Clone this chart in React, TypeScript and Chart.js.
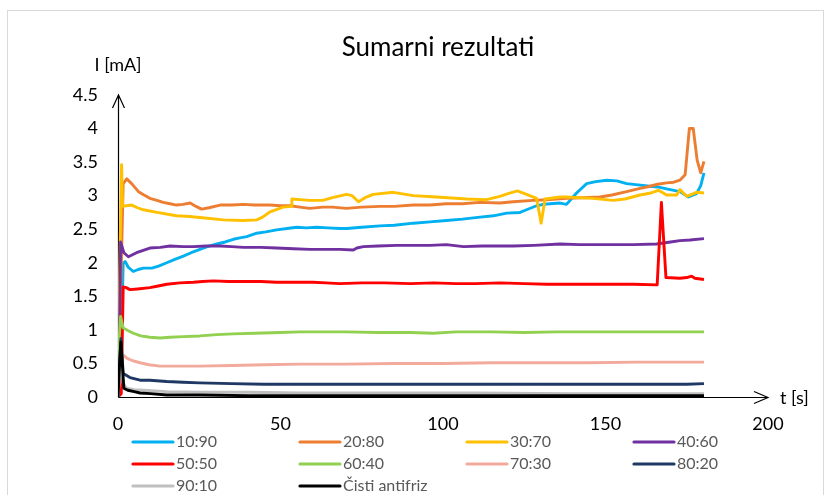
import React, { useEffect, useRef } from "react";
import { Chart, registerables } from "chart.js";

Chart.register(...registerables);

// ---- data (t in s, I in mA) ----
const seriesLabels = ["10:90", "20:80", "30:70", "40:60", "50:50", "60:40", "70:30", "80:20", "90:10", "Čisti antifriz"];
const seriesColors = ["#00B0F0", "#ED7D31", "#FFC000", "#7030A0", "#FF0000", "#92D050", "#F2AA9C", "#203864", "#BFBFBF", "#000000"];

const t1090 = [0, 0.8, 1.6, 2.2, 3.2, 4.7, 6.2, 7.8, 10.4, 12.5, 15, 17.5, 20.1, 22.5, 25.2, 27.5, 30.4, 33, 35.5, 37.5, 39.6, 42.7, 45.5, 48.8, 52, 55, 58, 61.1, 64.5, 68.3, 70.4, 75, 80.6, 85, 90.9, 96, 101.1, 106, 111.4, 115.5, 119.6, 123.7, 125.7, 128.8, 130.9, 132.9, 136, 138, 141.1, 144.2, 147, 150.4, 153.5, 156.5, 160, 163.7, 166, 168.8, 172.9, 175.5, 178, 179.3, 180.3];
const i1090 = [0, 0.4, 1.99, 2.02, 1.93, 1.87, 1.9, 1.92, 1.92, 1.95, 2.0, 2.05, 2.1, 2.15, 2.2, 2.24, 2.28, 2.31, 2.35, 2.37, 2.39, 2.44, 2.46, 2.49, 2.51, 2.53, 2.52, 2.53, 2.52, 2.51, 2.51, 2.53, 2.55, 2.56, 2.59, 2.61, 2.63, 2.65, 2.68, 2.7, 2.74, 2.75, 2.79, 2.85, 2.87, 2.88, 2.89, 2.87, 3.04, 3.18, 3.21, 3.23, 3.22, 3.18, 3.16, 3.14, 3.13, 3.1, 3.06, 2.98, 3.03, 3.15, 3.34];

const t2080 = [0, 0.8, 1.6, 2.7, 4.2, 6.3, 8, 9.8, 12, 13.9, 16, 18, 20, 22.2, 24, 25.7, 28, 31.4, 35, 38.6, 42, 46.8, 50, 52.9, 56, 59, 63, 66, 70.3, 75, 80.6, 85, 90.9, 96, 101, 106, 111.4, 117.5, 121.6, 127.7, 131.9, 138, 143, 148.3, 152, 156.5, 160, 163.7, 166, 168.8, 171, 172.9, 174.5, 175.8, 177, 178.2, 179.3, 180.3];
const i2080 = [0, 1.5, 3.18, 3.25, 3.18, 3.06, 3.01, 2.96, 2.93, 2.9, 2.88, 2.86, 2.87, 2.89, 2.84, 2.8, 2.82, 2.86, 2.86, 2.87, 2.86, 2.86, 2.85, 2.85, 2.83, 2.81, 2.83, 2.83, 2.81, 2.83, 2.84, 2.84, 2.86, 2.86, 2.88, 2.88, 2.9, 2.89, 2.91, 2.93, 2.94, 2.96, 2.97, 2.98, 3.01, 3.06, 3.1, 3.14, 3.17, 3.19, 3.2, 3.23, 3.31, 4.0, 4.0, 3.53, 3.34, 3.51];

const t3070 = [0, 0.5, 1.1, 1.4, 2.5, 4.2, 6, 7.8, 12, 18, 22, 26, 32.4, 38.5, 42.7, 44.5, 46.8, 50.8, 53.3, 53.5, 59, 63, 66, 70.3, 72, 74, 76, 78.5, 84.7, 90.9, 98, 107.3, 113.4, 117.5, 120, 122.9, 125.7, 128.8, 130.2, 131.4, 136, 138, 146, 152.4, 156, 160.6, 164, 166.3, 168.8, 171.9, 172.9, 175, 178, 180.3];
const i3070 = [0, 1.8, 3.46, 2.84, 2.85, 2.86, 2.82, 2.79, 2.75, 2.7, 2.69, 2.67, 2.64, 2.63, 2.64, 2.68, 2.76, 2.83, 2.84, 2.95, 2.93, 2.93, 2.97, 3.02, 3.0, 2.91, 2.97, 3.02, 3.05, 3.0, 2.98, 2.95, 2.94, 2.99, 3.03, 3.07, 3.02, 2.96, 2.59, 2.95, 2.98, 2.98, 2.96, 2.93, 2.95, 3.01, 3.04, 3.08, 3.01, 3.01, 3.09, 2.99, 3.05, 3.04];

const t4060 = [0, 0.5, 0.8, 1.8, 3.2, 5.7, 8, 9.8, 13, 16, 20, 23.2, 27, 31.4, 35, 38.6, 44, 48.8, 54, 59.1, 63, 68.3, 72.4, 73.5, 75.5, 80, 85.7, 90, 96, 101, 106.3, 112, 121.6, 128, 136, 142, 150, 158.6, 165.7, 170, 172.9, 176, 180.3];
const i4060 = [0, 1.0, 2.31, 2.15, 2.09, 2.15, 2.19, 2.22, 2.23, 2.25, 2.24, 2.24, 2.25, 2.25, 2.24, 2.23, 2.23, 2.22, 2.21, 2.2, 2.2, 2.2, 2.19, 2.22, 2.24, 2.25, 2.26, 2.26, 2.26, 2.27, 2.24, 2.25, 2.25, 2.26, 2.28, 2.27, 2.27, 2.27, 2.28, 2.31, 2.33, 2.34, 2.36];

const t5050 = [0, 1.0, 1.6, 2.5, 3.7, 6, 9.8, 12, 15, 19, 23.2, 26, 29.3, 34, 38.6, 44, 48.8, 55, 60, 64, 68.3, 75, 82, 90, 97, 104, 110, 117.5, 125, 132, 138, 145, 152, 158.6, 165.9, 167.2, 168.6, 172.9, 175, 176.5, 177.5, 180.3];
const i5050 = [0, 0.05, 1.64, 1.63, 1.6, 1.61, 1.63, 1.65, 1.68, 1.7, 1.71, 1.72, 1.73, 1.72, 1.72, 1.72, 1.71, 1.71, 1.71, 1.7, 1.69, 1.7, 1.7, 1.69, 1.7, 1.69, 1.69, 1.7, 1.69, 1.68, 1.68, 1.68, 1.68, 1.68, 1.67, 2.9, 1.78, 1.77, 1.78, 1.8, 1.77, 1.75];

const t6040 = [0, 0.4, 0.8, 1.6, 3, 4.7, 7, 9.8, 13, 16, 20.1, 25.2, 30.4, 35.5, 42, 50, 56, 63, 70, 80, 90, 97, 104, 115, 125, 135, 145, 155, 165, 172, 180.3];
const i6040 = [0, 0.9, 1.2, 1.03, 0.99, 0.95, 0.91, 0.89, 0.88, 0.89, 0.9, 0.91, 0.93, 0.94, 0.95, 0.96, 0.97, 0.97, 0.97, 0.96, 0.96, 0.95, 0.97, 0.97, 0.96, 0.97, 0.97, 0.97, 0.97, 0.97, 0.97];

const t7030 = [0, 0.5, 0.8, 2.7, 4.5, 6.8, 9.5, 12.9, 18, 25, 35, 45, 56, 70, 85, 100, 115, 130, 145, 160, 170, 180.3];
const i7030 = [0, 0.4, 0.66, 0.58, 0.54, 0.51, 0.48, 0.46, 0.46, 0.46, 0.47, 0.48, 0.49, 0.49, 0.5, 0.5, 0.51, 0.51, 0.51, 0.52, 0.52, 0.52];

const t8020 = [0, 0.5, 0.9, 1.6, 3.7, 6.8, 9.8, 15, 20, 25, 35, 45, 56, 70, 90, 110, 130, 150, 165, 175, 180.3];
const i8020 = [0, 0.5, 0.87, 0.35, 0.29, 0.25, 0.25, 0.23, 0.22, 0.21, 0.2, 0.19, 0.19, 0.19, 0.19, 0.19, 0.19, 0.19, 0.19, 0.19, 0.2];

const t9010 = [0, 0.5, 0.9, 1.6, 2.7, 5, 8, 15, 25, 40, 56, 80, 110, 140, 160, 180.3];
const i9010 = [0, 0.3, 0.5, 0.2, 0.13, 0.11, 0.1, 0.08, 0.07, 0.07, 0.06, 0.06, 0.06, 0.05, 0.05, 0.05];

const tCisti = [0, 0.5, 0.9, 1.8, 3, 5, 6.8, 10, 15, 25, 40, 60, 90, 120, 150, 180.3];
const iCisti = [0, 0.5, 0.82, 0.13, 0.1, 0.08, 0.06, 0.05, 0.03, 0.03, 0.02, 0.02, 0.02, 0.02, 0.02, 0.02];

const seriesT = [t1090, t2080, t3070, t4060, t5050, t6040, t7030, t8020, t9010, tCisti];
const seriesI = [i1090, i2080, i3070, i4060, i5050, i6040, i7030, i8020, i9010, iCisti];

const xTicks = [0, 50, 100, 150, 200];
const yTicks = [0, 0.5, 1, 1.5, 2, 2.5, 3, 3.5, 4, 4.5];

const chartTitle = "Sumarni rezultati";
const yAxisTitle = "I [mA]";
const xAxisTitle = "t [s]";

const FONT = "Lato, 'Open Sans', sans-serif";

const decorPlugin = {
  id: "decor",
  beforeDraw(chart: any) {
    const ctx = chart.ctx;
    ctx.save();
    ctx.fillStyle = "#ffffff";
    ctx.fillRect(0, 0, chart.width, chart.height);
    ctx.strokeStyle = "#D9D9D9";
    ctx.lineWidth = 1;
    ctx.strokeRect(7.5, 10.5, 816, 520);
    ctx.restore();
  },
  beforeDatasetsDraw(chart: any) {
    const ctx = chart.ctx;
    const xs = chart.scales.x;
    const ys = chart.scales.y;
    const x0 = Math.round(xs.getPixelForValue(0)) + 0.5;
    const xMax = xs.getPixelForValue(200);
    const y0 = Math.round(ys.getPixelForValue(0)) + 0.5;
    const yMax = ys.getPixelForValue(4.5);
    ctx.save();
    ctx.strokeStyle = "#000000";
    ctx.lineWidth = 1.2;
    ctx.beginPath();
    ctx.moveTo(x0, y0);
    ctx.lineTo(x0, yMax);
    ctx.moveTo(x0 - 6, yMax + 13);
    ctx.lineTo(x0, yMax);
    ctx.lineTo(x0 + 6, yMax + 13);
    ctx.moveTo(x0, y0);
    ctx.lineTo(xMax, y0);
    ctx.moveTo(xMax - 14, y0 - 6);
    ctx.lineTo(xMax, y0);
    ctx.lineTo(xMax - 14, y0 + 6);
    ctx.stroke();
    ctx.restore();
  },
  afterDraw(chart: any) {
    const ctx = chart.ctx;
    const xs = chart.scales.x;
    const ys = chart.scales.y;
    ctx.save();
    // title
    ctx.fillStyle = "#000000";
    ctx.font = `26px ${FONT}`;
    ctx.textAlign = "center";
    ctx.textBaseline = "middle";
    ctx.fillText(chartTitle, 438, 48);
    // axis titles
    ctx.font = `18px ${FONT}`;
    ctx.fillText(yAxisTitle, xs.getPixelForValue(0), 65);
    ctx.textAlign = "left";
    ctx.fillText(xAxisTitle, xs.getPixelForValue(200) + 12, ys.getPixelForValue(0) + 1);
    // legend
    const colX = [133, 300, 467, 634];
    const rowY = [442, 464, 486];
    ctx.font = `16px ${FONT}`;
    ctx.textBaseline = "middle";
    ctx.lineCap = "round";
    chart.data.datasets.forEach((ds: any, i: number) => {
      const cx = colX[i % 4];
      const cy = rowY[Math.floor(i / 4)];
      ctx.strokeStyle = ds.borderColor;
      ctx.lineWidth = 3.2;
      ctx.beginPath();
      ctx.moveTo(cx, cy);
      ctx.lineTo(cx + 40, cy);
      ctx.stroke();
      ctx.fillStyle = "#595959";
      ctx.fillText(ds.label, cx + 43, cy);
    });
    ctx.restore();
  },
};

export default function App() {
  const ref = useRef<HTMLCanvasElement | null>(null);
  useEffect(() => {
    let chart: Chart | null = null;
    let cancelled = false;
    const build = () => {
      if (cancelled || !ref.current) return;
      const datasets = seriesLabels.map((label, i) => ({
        label,
        data: seriesT[i].map((t, k) => ({ x: t, y: seriesI[i][k] })),
        borderColor: seriesColors[i],
        backgroundColor: seriesColors[i],
        borderWidth: 2.9,
        borderJoinStyle: "round",
        pointRadius: 0,
        tension: 0,
        fill: false,
        order: seriesLabels.length - i,
      }));
      chart = new Chart(ref.current, {
        type: "line",
        data: { datasets },
        plugins: [decorPlugin],
        options: {
          animation: false,
          responsive: false,
          events: [],
          layout: { padding: { left: 20, top: 95, right: 57, bottom: 58 } },
          plugins: {
            legend: { display: false },
            title: { display: false },
            tooltip: { enabled: false },
          },
          scales: {
            x: {
              type: "linear",
              min: 0,
              max: 200,
              afterBuildTicks: (s: any) => {
                s.ticks = xTicks.map((v) => ({ value: v }));
              },
              afterFit: (s: any) => {
                s.height = 40;
              },
              ticks: {
                font: { family: FONT, size: 18 },
                color: "#000000",
                padding: 16,
                maxRotation: 0,
                autoSkip: false,
              },
              grid: { display: false, drawTicks: false },
              border: { display: false },
            },
            y: {
              type: "linear",
              min: 0,
              max: 4.5,
              afterBuildTicks: (s: any) => {
                s.ticks = yTicks.map((v) => ({ value: v }));
              },
              afterFit: (s: any) => {
                s.width = 98;
              },
              ticks: {
                font: { family: FONT, size: 18 },
                color: "#000000",
                padding: 20,
                autoSkip: false,
                callback: (v: any) => String(v),
              },
              grid: { display: false, drawTicks: false },
              border: { display: false },
            },
          },
        },
      } as any);
    };
    const fontsReady = (document as any).fonts
      ? Promise.all([
          (document as any).fonts.load(`16px Lato`),
          (document as any).fonts.load(`26px Lato`),
        ]).catch(() => null)
      : Promise.resolve(null);
    fontsReady.then(build);
    return () => {
      cancelled = true;
      if (chart) chart.destroy();
    };
  }, []);
  return (
    <div style={{ position: "absolute", left: 0, top: 0, width: 825, height: 495, background: "#fff" }}>
      <canvas ref={ref} width={825} height={495} style={{ display: "block", width: 825, height: 495 }} />
    </div>
  );
}
